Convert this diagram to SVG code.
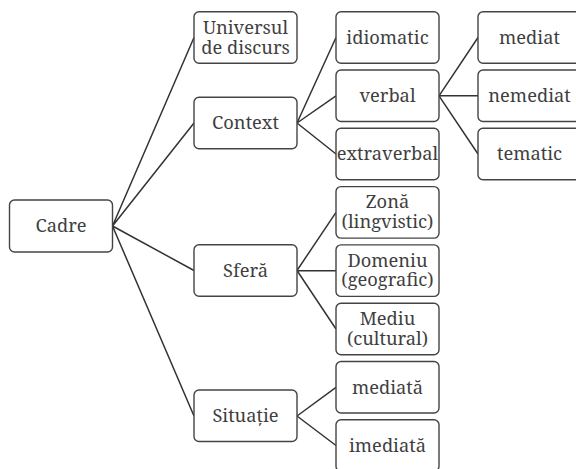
<svg xmlns="http://www.w3.org/2000/svg" width="576" height="469" viewBox="0 0 576 469">
<style>
rect{fill:#fff;stroke:#444;stroke-width:1.4}
#connectors path{fill:none;stroke:#333;stroke-width:1.5}
</style>
<rect x="0" y="0" width="576" height="469" style="fill:#fff;stroke:none"/>
<g id="connectors">
<path d="M112.5 226L194 37.5M112.5 226L194 123M112.5 226L194 270.5M112.5 226L194 416"/>
<path d="M297 123L336 37.5M297 123L336 95.8M297 123L336 154"/>
<path d="M439 95.8L478 37.5M439 95.8L478 95.8M439 95.8L478 154"/>
<path d="M297 270.5L336 212.4M297 270.5L336 270.7M297 270.5L336 329"/>
<path d="M297 416L336 387.3M297 416L336 445.5"/>
</g>
<g font-family="Noto Serif, Liberation Serif, serif" font-size="18.3" fill="#3f3f3f" text-anchor="middle">
<g id="cadre"><rect x="9.5" y="200" width="103" height="52" rx="5"/><text x="61" y="232.3">Cadre</text></g>
<g id="universul"><rect x="194" y="11.75" width="103" height="51.5" rx="5"/><text x="245.5" y="33.5">Universul</text><text x="245.5" y="53.5">de discurs</text></g>
<g id="context"><rect x="194" y="97.3" width="103" height="51.5" rx="5"/><text x="245.5" y="129.3">Context</text></g>
<g id="sfera"><rect x="194" y="244.8" width="103" height="51.5" rx="5"/><text x="245.5" y="276.8">Sferă</text></g>
<g id="situatie"><rect x="194" y="390" width="103" height="51.5" rx="5"/><text x="245.5" y="422.2">Situație</text></g>
<g id="idiomatic"><rect x="336" y="11.75" width="103" height="51.5" rx="5"/><text x="387.5" y="43.7">idiomatic</text></g>
<g id="verbal"><rect x="336" y="70" width="103" height="51.5" rx="5"/><text x="387.5" y="102">verbal</text></g>
<g id="extraverbal"><rect x="336" y="128.3" width="103" height="51.5" rx="5"/><text x="387.5" y="160.3">extraverbal</text></g>
<g id="zona"><rect x="336" y="186.6" width="103" height="51.5" rx="5"/><text x="387.5" y="208.3">Zonă</text><text x="387.5" y="227.7">(lingvistic)</text></g>
<g id="domeniu"><rect x="336" y="244.9" width="103" height="51.5" rx="5"/><text x="387.5" y="266.8">Domeniu</text><text x="387.5" y="286.2">(geografic)</text></g>
<g id="mediu"><rect x="336" y="303.2" width="103" height="51.5" rx="5"/><text x="387.5" y="325.1">Mediu</text><text x="387.5" y="344.5">(cultural)</text></g>
<g id="mediata"><rect x="336" y="361.5" width="103" height="51.5" rx="5"/><text x="387.5" y="393.5">mediată</text></g>
<g id="imediata"><rect x="336" y="419.8" width="103" height="51.5" rx="5"/><text x="387.5" y="451.8">imediată</text></g>
<g id="mediat"><rect x="478" y="11.75" width="103" height="51.5" rx="5"/><text x="529.5" y="43.7">mediat</text></g>
<g id="nemediat"><rect x="478" y="70" width="103" height="51.5" rx="5"/><text x="529.5" y="102">nemediat</text></g>
<g id="tematic"><rect x="478" y="128.3" width="103" height="51.5" rx="5"/><text x="529.5" y="160.3">tematic</text></g>
</g>
</svg>
